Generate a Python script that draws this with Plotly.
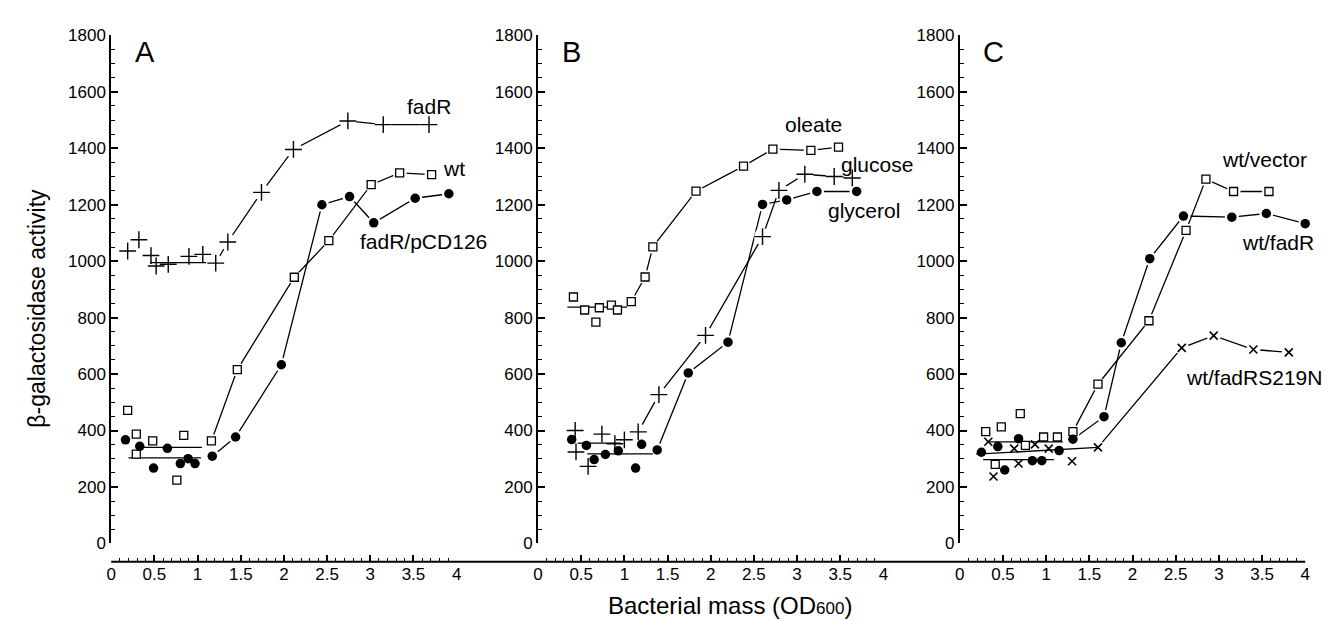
import plotly.graph_objects as go

W, H = 1330, 621

# ---------------- data ----------------
# Panel A
A_fadR_x = [0.19, 0.32, 0.46, 0.52, 0.66, 0.90, 1.06, 1.21, 1.35, 1.74, 2.11, 2.74, 3.15, 3.68]
A_fadR_y = [1036, 1076, 1020, 983, 989, 1017, 1024, 993, 1068, 1244, 1396, 1497, 1484, 1484]
A_fadR_start = 7
A_fadR_fit_x = [0.45, 1.10]
A_fadR_fit_y = [995, 995]

A_wt_x = [0.19, 0.29, 0.29, 0.48, 0.76, 0.84, 1.16, 1.46, 2.12, 2.52, 3.01, 3.34, 3.71]
A_wt_y = [471, 387, 316, 363, 224, 383, 363, 616, 943, 1073, 1271, 1313, 1307]
A_wt_start = 6
A_wt_fit_x = [0.31, 1.05]
A_wt_fit_y = [340, 340]

A_pcd_x = [0.165, 0.33, 0.49, 0.65, 0.80, 0.89, 0.97, 1.17, 1.44, 1.97, 2.44, 2.76, 3.04, 3.52, 3.91]
A_pcd_y = [367, 344, 267, 337, 283, 300, 283, 309, 377, 633, 1200, 1229, 1136, 1223, 1239]
A_pcd_start = 7
A_pcd_fit_x = [0.20, 1.04]
A_pcd_fit_y = [303, 303]

# Panel B
B_ole_x = [0.41, 0.54, 0.67, 0.71, 0.85, 0.92, 1.08, 1.24, 1.33, 1.83, 2.38, 2.72, 3.16, 3.48]
B_ole_y = [873, 827, 784, 835, 844, 827, 857, 944, 1051, 1248, 1337, 1397, 1393, 1404]
B_ole_start = 6
B_ole_fit_x = [0.34, 1.03]
B_ole_fit_y = [837, 837]

B_glu_x = [0.43, 0.44, 0.58, 0.74, 0.89, 1.00, 1.16, 1.40, 1.94, 2.60, 2.79, 3.09, 3.43, 3.64]
B_glu_y = [400, 324, 273, 387, 353, 367, 395, 527, 737, 1087, 1251, 1308, 1300, 1295]
B_glu_start = 6
B_glu_fit_x = [0.46, 0.96]
B_glu_fit_y = [355, 355]

B_gly_x = [0.39, 0.56, 0.65, 0.78, 0.93, 1.13, 1.20, 1.38, 1.74, 2.20, 2.60, 2.88, 3.23, 3.69]
B_gly_y = [368, 347, 297, 315, 328, 267, 351, 331, 604, 713, 1201, 1217, 1247, 1247]
B_gly_start = 7
B_gly_fit_x = [0.57, 1.33]
B_gly_fit_y = [317, 317]

# Panel C
C_vec_x = [0.30, 0.41, 0.48, 0.70, 0.76, 0.97, 1.13, 1.31, 1.60, 2.19, 2.62, 2.85, 3.17, 3.58]
C_vec_y = [396, 280, 413, 460, 347, 377, 377, 396, 564, 789, 1109, 1291, 1247, 1247]
C_vec_start = 7
C_vec_fit_x = [0.31, 1.19]
C_vec_fit_y = [360, 360]

C_fad_x = [0.25, 0.44, 0.52, 0.68, 0.84, 0.95, 1.15, 1.31, 1.67, 1.87, 2.20, 2.59, 3.15, 3.55, 4.0]
C_fad_y = [323, 343, 260, 371, 293, 293, 329, 369, 449, 711, 1009, 1160, 1156, 1169, 1133]
C_fad_start = 7
C_fad_fit_x = [0.27, 1.09]
C_fad_fit_y = [297, 297]

C_mut_x = [0.33, 0.39, 0.63, 0.68, 0.87, 1.03, 1.30, 1.60, 2.57, 2.94, 3.40, 3.81]
C_mut_y = [360, 237, 336, 283, 351, 336, 291, 340, 693, 736, 687, 677]
C_mut_start = 7
C_mut_fit_x = [0.19, 1.60]
C_mut_fit_y = [316, 340]

x_ticks = [0, 0.5, 1, 1.5, 2, 2.5, 3, 3.5, 4]
x_ticktext = ["0", "0.5", "1", "1.5", "2", "2.5", "3", "3.5", "4"]
y_ticks = [0, 200, 400, 600, 800, 1000, 1200, 1400, 1600, 1800]
panel_letters = ["A", "B", "C"]

labels_A = [("fadR", 3.68, 1547, "center"), ("wt", 3.82, 1329, "left"), ("fadR/pCD126", 2.86, 1069, "left")]
labels_B = [("oleate", 3.19, 1484, "center"), ("glucose", 3.49, 1344, "left"), ("glycerol", 3.34, 1181, "left")]
labels_C = [("wt/vector", 3.01, 1360, "left"), ("wt/fadR", 3.24, 1067, "left"), ("wt/fadRS219N", 2.6, 589, "left")]

# ---------------- styles ----------------
FONT = "Liberation Sans, Arial, Helvetica, sans-serif"
BLACK = "black"
STY = {
    "plus": dict(symbol="cross-thin", size=12, color=BLACK, line=dict(color=BLACK, width=1.4)),
    "square": dict(symbol="square", size=8, color="white", line=dict(color=BLACK, width=1.3)),
    "circle": dict(symbol="circle", size=9.5, color=BLACK, line=dict(color=BLACK, width=0)),
    "x": dict(symbol="x-thin", size=8, color=BLACK, line=dict(color=BLACK, width=1.6)),
}
HALO = {"plus": 17, "square": 14, "circle": 14, "x": 14}

panels = [
    ("x", "y", [
        (A_fadR_x, A_fadR_y, A_fadR_start, A_fadR_fit_x, A_fadR_fit_y, "plus"),
        (A_wt_x, A_wt_y, A_wt_start, A_wt_fit_x, A_wt_fit_y, "square"),
        (A_pcd_x, A_pcd_y, A_pcd_start, A_pcd_fit_x, A_pcd_fit_y, "circle"),
    ], labels_A),
    ("x2", "y2", [
        (B_ole_x, B_ole_y, B_ole_start, B_ole_fit_x, B_ole_fit_y, "square"),
        (B_glu_x, B_glu_y, B_glu_start, B_glu_fit_x, B_glu_fit_y, "plus"),
        (B_gly_x, B_gly_y, B_gly_start, B_gly_fit_x, B_gly_fit_y, "circle"),
    ], labels_B),
    ("x3", "y3", [
        (C_vec_x, C_vec_y, C_vec_start, C_vec_fit_x, C_vec_fit_y, "square"),
        (C_fad_x, C_fad_y, C_fad_start, C_fad_fit_x, C_fad_fit_y, "circle"),
        (C_mut_x, C_mut_y, C_mut_start, C_mut_fit_x, C_mut_fit_y, "x"),
    ], labels_C),
]

fig = go.Figure()
LINE = dict(color=BLACK, width=1.3)

for xa, ya, series, labels in panels:
    # connecting lines
    for xs, ys, st, fx, fy, sym in series:
        fig.add_trace(go.Scatter(x=xs[st:], y=ys[st:], mode="lines", line=LINE,
                                 xaxis=xa, yaxis=ya, showlegend=False, hoverinfo="skip",
                                 cliponaxis=False))
    # white halos around connected markers (gaps in lines)
    for xs, ys, st, fx, fy, sym in series:
        fig.add_trace(go.Scatter(x=xs[st:], y=ys[st:], mode="markers",
                                 marker=dict(symbol="circle", size=HALO[sym], color="white",
                                             line=dict(width=0)),
                                 xaxis=xa, yaxis=ya, showlegend=False, hoverinfo="skip",
                                 cliponaxis=False))
    # fitted baseline lines
    for xs, ys, st, fx, fy, sym in series:
        fig.add_trace(go.Scatter(x=fx, y=fy, mode="lines", line=LINE,
                                 xaxis=xa, yaxis=ya, showlegend=False, hoverinfo="skip",
                                 cliponaxis=False))
    # markers
    for xs, ys, st, fx, fy, sym in series:
        fig.add_trace(go.Scatter(x=xs, y=ys, mode="markers", marker=STY[sym],
                                 xaxis=xa, yaxis=ya, showlegend=False, cliponaxis=False))

annotations = []
for i, (xa, ya, series, labels) in enumerate(panels):
    for txt, lx, ly, anc in labels:
        annotations.append(dict(text=txt, x=lx, y=ly, xref=xa, yref=ya, xanchor=anc,
                                yanchor="middle", showarrow=False,
                                font=dict(family=FONT, size=21, color=BLACK)))
    annotations.append(dict(text=panel_letters[i], x=0.39, y=1742, xref=xa, yref=ya,
                            xanchor="center", yanchor="middle", showarrow=False,
                            font=dict(family=FONT, size=29, color=BLACK)))

annotations.append(dict(text="β-galactosidase activity", x=24 / W, y=1 - 300 / H,
                        xref="paper", yref="paper", textangle=-90, showarrow=False,
                        xanchor="center", yanchor="middle",
                        font=dict(family=FONT, size=23, color=BLACK)))
annotations.append(dict(text="Bacterial mass (OD<span style='font-size:17px'>600</span>)",
                        x=722 / W, y=1 - 607 / H, xref="paper", yref="paper",
                        showarrow=False, xanchor="center", yanchor="middle",
                        font=dict(family=FONT, size=24, color=BLACK)))

x_domains = [[99 / W, 447 / W], [529 / W, 877 / W], [954 / W, 1302 / W]]
y_domain = [1 - 543 / H, 1 - 19 / H]
x_pos = 1 - 562 / H

layout = dict(
    width=W, height=H,
    margin=dict(l=0, r=0, t=0, b=0),
    paper_bgcolor="white", plot_bgcolor="rgba(0,0,0,0)",
    font=dict(family=FONT, color=BLACK),
    annotations=annotations,
    shapes=[dict(type="line", xref="paper", yref="paper", x0=99 / W, x1=1302 / W,
                 y0=x_pos, y1=x_pos, line=dict(color=BLACK, width=2))],
)

for i, (xa, ya, series, labels) in enumerate(panels):
    xkey = "xaxis" if i == 0 else f"xaxis{i + 1}"
    ykey = "yaxis" if i == 0 else f"yaxis{i + 1}"
    layout[xkey] = dict(domain=x_domains[i], anchor="free", position=x_pos, range=[0, 4],
                        showgrid=False, zeroline=False, showline=False,
                        tickmode="array", tickvals=x_ticks, ticktext=x_ticktext,
                        ticks="inside", ticklen=7, tickwidth=1.5, tickcolor=BLACK,
                        minor=dict(dtick=0.1, tick0=0, ticks="inside", ticklen=4,
                                   tickwidth=1.3, tickcolor=BLACK),
                        tickfont=dict(family=FONT, size=17, color=BLACK))
    layout[ykey] = dict(domain=y_domain, anchor=xa, range=[0, 1800],
                        showgrid=False, zeroline=False, showline=True,
                        linecolor=BLACK, linewidth=2,
                        tickmode="array", tickvals=y_ticks,
                        ticks="inside", ticklen=7, tickwidth=1.5, tickcolor=BLACK,
                        minor=dict(dtick=50, tick0=0, ticks="inside", ticklen=4,
                                   tickwidth=1.3, tickcolor=BLACK),
                        tickfont=dict(family=FONT, size=17, color=BLACK))

fig.update_layout(**layout)
fig.write_html("out.html")
